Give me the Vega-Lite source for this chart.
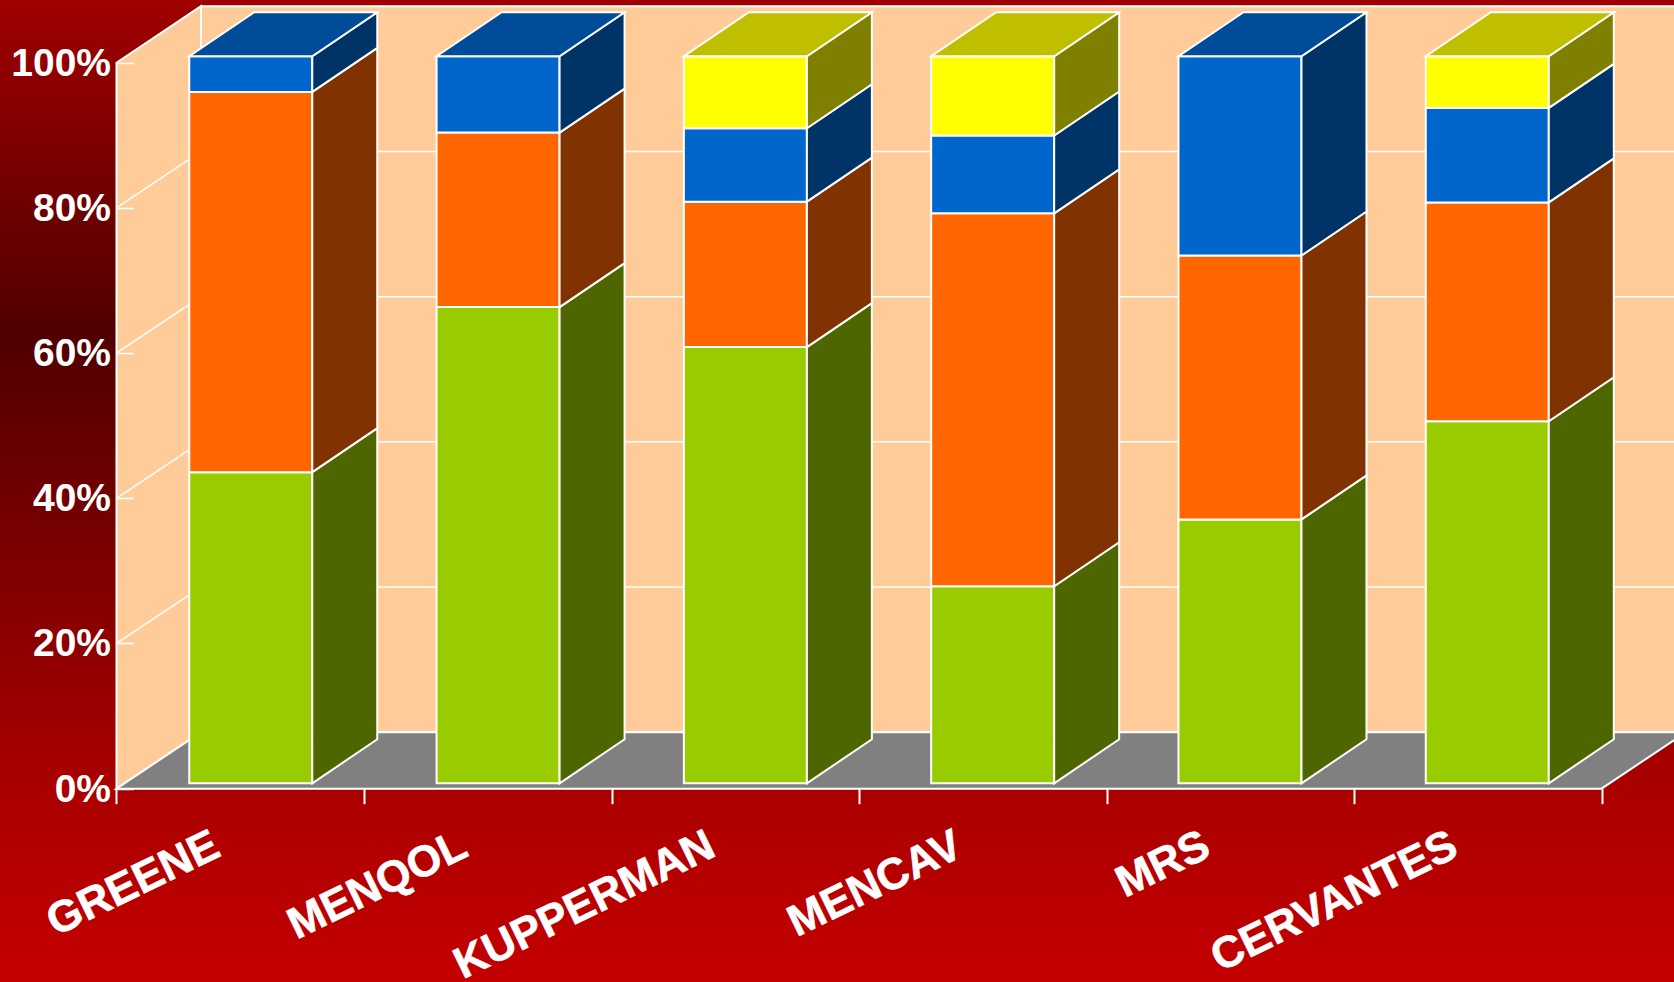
{"$schema":"https://vega.github.io/schema/vega-lite/v6.json","width":1674,"height":982,"autosize":{"type":"none"},"padding":0,"background":"#800000","config":{"view":{"stroke":null},"font":"Liberation Sans"},
"datasets":{"bars":[
{"study":"GREENE","idx":0,"series":"S1","value":42.8},{"study":"GREENE","idx":0,"series":"S2","value":52.3},{"study":"GREENE","idx":0,"series":"S3","value":4.9},
{"study":"MENQOL","idx":1,"series":"S1","value":65.5},{"study":"MENQOL","idx":1,"series":"S2","value":24.0},{"study":"MENQOL","idx":1,"series":"S3","value":10.5},
{"study":"KUPPERMAN","idx":2,"series":"S1","value":60.0},{"study":"KUPPERMAN","idx":2,"series":"S2","value":20.0},{"study":"KUPPERMAN","idx":2,"series":"S3","value":10.1},{"study":"KUPPERMAN","idx":2,"series":"S4","value":9.9},
{"study":"MENCAV","idx":3,"series":"S1","value":27.1},{"study":"MENCAV","idx":3,"series":"S2","value":51.3},{"study":"MENCAV","idx":3,"series":"S3","value":10.7},{"study":"MENCAV","idx":3,"series":"S4","value":10.9},
{"study":"MRS","idx":4,"series":"S1","value":36.3},{"study":"MRS","idx":4,"series":"S2","value":36.3},{"study":"MRS","idx":4,"series":"S3","value":27.4},
{"study":"CERVANTES","idx":5,"series":"S1","value":49.8},{"study":"CERVANTES","idx":5,"series":"S2","value":30.1},{"study":"CERVANTES","idx":5,"series":"S3","value":13.0},{"study":"CERVANTES","idx":5,"series":"S4","value":7.1}],
"pct":[{"p":0},{"p":20},{"p":40},{"p":60},{"p":80},{"p":100}],
"edge":[{"d":0},{"d":1}],
"names":[{"study":"GREENE","idx":0},{"study":"MENQOL","idx":1},{"study":"KUPPERMAN","idx":2},{"study":"MENCAV","idx":3},{"study":"MRS","idx":4},{"study":"CERVANTES","idx":5}]},
"layer":[
{"data":{"values":[{}]},"mark":{"type":"rect","fill":{"gradient":"linear","x1":0,"y1":0,"x2":0.0001,"y2":1,"stops":[{"offset":0,"color":"#a00000"},{"offset":0.34,"color":"#500000"},{"offset":0.8,"color":"#aa0000"},{"offset":1,"color":"#c40000"}]}},
"encoding":{"x":{"datum":-0.4707,"type":"quantitative","scale":{"domain":[-0.4707,6.2929],"nice":false,"zero":false},"axis":{"values":[0,1,2,3,4,5,6],"orient":"bottom","offset":-193.3,"title":null,"labels":false,"domain":false,"grid":false,"ticks":true,"tickColor":"#ffffff","tickWidth":2,"tickSize":15,"zindex":1}},"x2":{"datum":6.2929},"y":{"datum":-26.63,"type":"quantitative","scale":{"domain":[-26.63,108.64],"nice":false,"zero":false},"axis":{"values":[0,20,40,60,80,100],"orient":"left","offset":-116.5,"title":null,"domain":false,"grid":false,"tickColor":"#ffffff","tickWidth":1.5,"tickSize":-17,"labelExpr":"datum.value+'%'","labelColor":"#ffffff","labelFont":"Liberation Sans","labelFontWeight":"bold","labelFontSize":39,"labelPadding":23,"labelBaseline":"middle","labelOffset":0.5,"zindex":1}},"y2":{"datum":108.64}}},
{"data":{"name":"edge"},"transform":[{"calculate":"0.3414*datum.d","as":"x"},{"calculate":"7.78*datum.d","as":"lo"},{"calculate":"100+7.78*datum.d","as":"hi"}],
"mark":{"type":"area","orient":"vertical","fill":"#ffcc99","stroke":"#ffffff","strokeWidth":2},
"encoding":{"x":{"field":"x","type":"quantitative"},"y":{"field":"lo","type":"quantitative","stack":null},"y2":{"field":"hi"}}},
{"data":{"values":[{}]},"mark":{"type":"rect","fill":"#ffcc99","stroke":"#ffffff","strokeWidth":2},
"encoding":{"x":{"datum":0.3414,"type":"quantitative"},"x2":{"datum":6.3414},"y":{"datum":7.78,"type":"quantitative"},"y2":{"datum":107.78}}},
{"data":{"name":"edge"},"transform":[{"calculate":"7.78*datum.d","as":"y"},{"calculate":"0.3414*datum.d","as":"a"},{"calculate":"6+0.3414*datum.d","as":"b"}],
"mark":{"type":"area","orient":"horizontal","fill":"#808080","stroke":"#ffffff","strokeWidth":2},
"encoding":{"y":{"field":"y","type":"quantitative"},"x":{"field":"a","type":"quantitative","stack":null},"x2":{"field":"b"}}},
{"data":{"name":"pct"},"transform":[{"filter":"datum.p>0 && datum.p<100"},{"calculate":"datum.p+7.78","as":"q"},{"calculate":"0","as":"a"},{"calculate":"0.3414","as":"b"}],
"mark":{"type":"rule","stroke":"#ffffff","strokeWidth":1.5},
"encoding":{"x":{"field":"a","type":"quantitative"},"x2":{"field":"b"},"y":{"field":"p","type":"quantitative"},"y2":{"field":"q"}}},
{"data":{"name":"pct"},"transform":[{"filter":"datum.p>0 && datum.p<100"},{"calculate":"datum.p+7.78","as":"q"},{"calculate":"0.3414","as":"a"},{"calculate":"6.3414","as":"b"}],
"mark":{"type":"rule","stroke":"#ffffff","strokeWidth":1.5},
"encoding":{"x":{"field":"a","type":"quantitative"},"x2":{"field":"b"},"y":{"field":"q","type":"quantitative"}}},
{"data":{"name":"bars"},"transform":[{"stack":"value","groupby":["study"],"sort":[{"field":"series","order":"ascending"}],"as":["v0","v1"]},{"calculate":"datum.idx*0.9992+0.294","as":"xl"},{"calculate":"datum.idx*0.9992+0.791","as":"xr"},{"calculate":"datum.v0*1.0015+0.74","as":"lo"},{"calculate":"datum.v1*1.0015+0.74","as":"hi"}],
"mark":{"type":"rect","stroke":"#ffffff","strokeWidth":2},
"encoding":{"x":{"field":"xl","type":"quantitative"},"x2":{"field":"xr"},"y":{"field":"lo","type":"quantitative"},"y2":{"field":"hi"},
"color":{"field":"series","type":"nominal","legend":null,"scale":{"domain":["S1","S2","S3","S4"],"range":["#99cc00","#ff6600","#0066cc","#ffff00"]}}}},
{"data":{"name":"bars"},"transform":[{"stack":"value","groupby":["study"],"sort":[{"field":"series","order":"ascending"}],"as":["v0","v1"]},{"calculate":"[0,1]","as":"d"},{"flatten":["d"]},{"calculate":"datum.idx*0.9992+0.791+0.2626*datum.d","as":"sx"},{"calculate":"datum.v0*1.0015+0.74+6.06*datum.d","as":"lo"},{"calculate":"datum.v1*1.0015+0.74+6.06*datum.d","as":"hi"}],
"mark":{"type":"area","orient":"vertical","stroke":"#ffffff","strokeWidth":2},
"encoding":{"x":{"field":"sx","type":"quantitative"},"y":{"field":"lo","type":"quantitative","stack":null},"y2":{"field":"hi"},"detail":{"field":"study"},
"color":{"field":"series","type":"nominal","legend":null,"scale":{"domain":["S1","S2","S3","S4"],"range":["#4d6600","#803300","#003366","#808000"]}}}},
{"data":{"name":"bars"},"transform":[{"stack":"value","groupby":["study"],"sort":[{"field":"series","order":"ascending"}],"as":["v0","v1"]},{"filter":"datum.v1>99.9"},{"calculate":"[0,1]","as":"d"},{"flatten":["d"]},{"calculate":"datum.v1*1.0015+0.74+6.06*datum.d","as":"ty"},{"calculate":"datum.idx*0.9992+0.294+0.2626*datum.d","as":"a"},{"calculate":"datum.idx*0.9992+0.791+0.2626*datum.d","as":"b"}],
"mark":{"type":"area","orient":"horizontal","stroke":"#ffffff","strokeWidth":2},
"encoding":{"y":{"field":"ty","type":"quantitative"},"x":{"field":"a","type":"quantitative","stack":null},"x2":{"field":"b"},"detail":{"field":"study"},
"color":{"field":"series","type":"nominal","legend":null,"scale":{"domain":["S1","S2","S3","S4"],"range":["#4d6600","#bf3300","#004c99","#bfbf00"]}}}},
{"data":{"name":"names"},"transform":[{"calculate":"datum.idx+0.5","as":"c"}],
"mark":{"type":"text","angle":-26,"align":"right","baseline":"middle","font":"Liberation Sans","fontWeight":"bold","fontSize":44,"color":"#ffffff","stroke":"#ffffff","strokeWidth":0.6,"dx":-18,"dy":-16},
"encoding":{"x":{"field":"c","type":"quantitative"},"y":{"datum":-8.44,"type":"quantitative"},"text":{"field":"study"}}}
],
"resolve":{"scale":{"color":"independent"}}}
